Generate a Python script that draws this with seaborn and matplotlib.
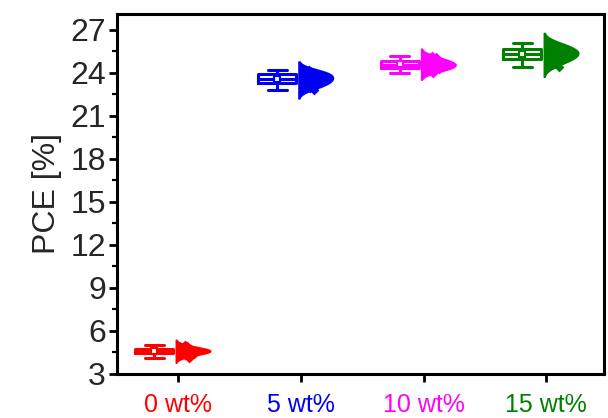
import numpy as np
import pandas as pd
import matplotlib
matplotlib.use("Agg")
import matplotlib.pyplot as plt
import seaborn as sns
from matplotlib.ticker import MultipleLocator

# PCE values per additive loading
groups = ["0 wt%", "5 wt%", "10 wt%", "15 wt%"]
colors = ["#FF0000", "#0000F0", "#FF00FF", "#008000"]

pce_0 = [4.12, 4.25, 4.33, 4.38, 4.42, 4.45, 4.50, 4.53, 4.56, 4.58,
         4.60, 4.62, 4.65, 4.68, 4.72, 4.75, 4.78, 4.82, 4.88, 4.95, 5.05]
pce_5 = [22.80, 22.95, 23.05, 23.15, 23.20, 23.28, 23.35, 23.42, 23.50, 23.55,
         23.60, 23.68, 23.75, 23.82, 23.90, 23.95, 24.00, 24.05, 24.12, 24.20]
pce_10 = [24.00, 24.10, 24.18, 24.25, 24.30, 24.36, 24.42, 24.48, 24.52, 24.55,
          24.58, 24.62, 24.68, 24.74, 24.80, 24.85, 24.92, 25.00, 25.10, 25.20]
pce_15 = [24.40, 24.60, 24.75, 24.85, 24.92, 25.00, 25.10, 25.18, 25.25, 25.30,
          25.35, 25.42, 25.50, 25.58, 25.65, 25.72, 25.80, 25.90, 26.00, 26.10]

yticks = [3, 6, 9, 12, 15, 18, 21, 24, 27]

rows = []
for i, (g, vals) in enumerate(zip(groups, [pce_0, pce_5, pce_10, pce_15])):
    for v in vals:
        rows.append({"group": g, "pos": i, "PCE": v})
df = pd.DataFrame(rows)
df["box_x"] = df["pos"] - 0.195   # box sits left of the tick
df["vio_x"] = df["pos"] + 0.12    # half violin: flat edge just left of the tick
df["pt_x"] = df["pos"] + 0.08     # device points over the violin
df["side"] = pd.Categorical(["R"] * len(df), categories=["L", "R"])

sns.set_style("ticks")
plt.rcParams["font.family"] = ["Liberation Sans", "DejaVu Sans"]

fig = plt.figure(figsize=(6.08, 4.18), dpi=100)
ax = fig.add_axes([0.1924, 0.1053, 0.801, 0.8612])

np.random.seed(3)
for g, c in zip(groups, colors):
    sub = df[df["group"] == g]
    # right-hand half violin
    sns.violinplot(data=sub, x="vio_x", y="PCE", orient="x", native_scale=True,
                   hue="side", palette={"L": c, "R": c}, split=True,
                   inner=None, width=0.28, linewidth=1.2, linecolor=c,
                   saturation=1, bw_adjust=1.3, legend=False, ax=ax)
    # individual devices
    sns.stripplot(data=sub, x="pt_x", y="PCE", orient="x", native_scale=True,
                  color=c, marker="D", size=5, jitter=0.06, linewidth=0,
                  ax=ax)
    # hollow box with whiskers and mean
    sns.boxplot(data=sub, x="box_x", y="PCE", orient="x", native_scale=True,
                color=c, fill=False, width=0.31, linewidth=2.2,
                whis=(0, 100), showmeans=True, ax=ax,
                meanprops=dict(marker="s", markersize=4.5,
                               markerfacecolor="white", markeredgecolor=c,
                               markeredgewidth=1.5))

ax.set_xlim(-0.5, 3.47)
ax.set_ylim(3, 28.1)
ax.set_xticks(range(len(groups)))
ax.set_xticklabels(groups)
for lab, c in zip(ax.get_xticklabels(), colors):
    lab.set_color(c)
    lab.set_fontsize(18)
ax.set_yticks(yticks)
ax.set_yticklabels([str(t) for t in yticks], fontsize=23)
ax.yaxis.set_minor_locator(MultipleLocator(1.5))
ax.set_xlabel("")
ax.set_ylabel("PCE [%]", fontsize=23, labelpad=6)

for s in ax.spines.values():
    s.set_visible(True)
    s.set_linewidth(2.2)
    s.set_color("black")
ax.tick_params(axis="both", which="major", length=6, width=2.0, color="black")
ax.tick_params(axis="y", which="minor", length=3.5, width=1.6, color="black")
ax.tick_params(axis="x", pad=8)
ax.tick_params(axis="y", pad=2)

fig.savefig("out.png", dpi=100)
